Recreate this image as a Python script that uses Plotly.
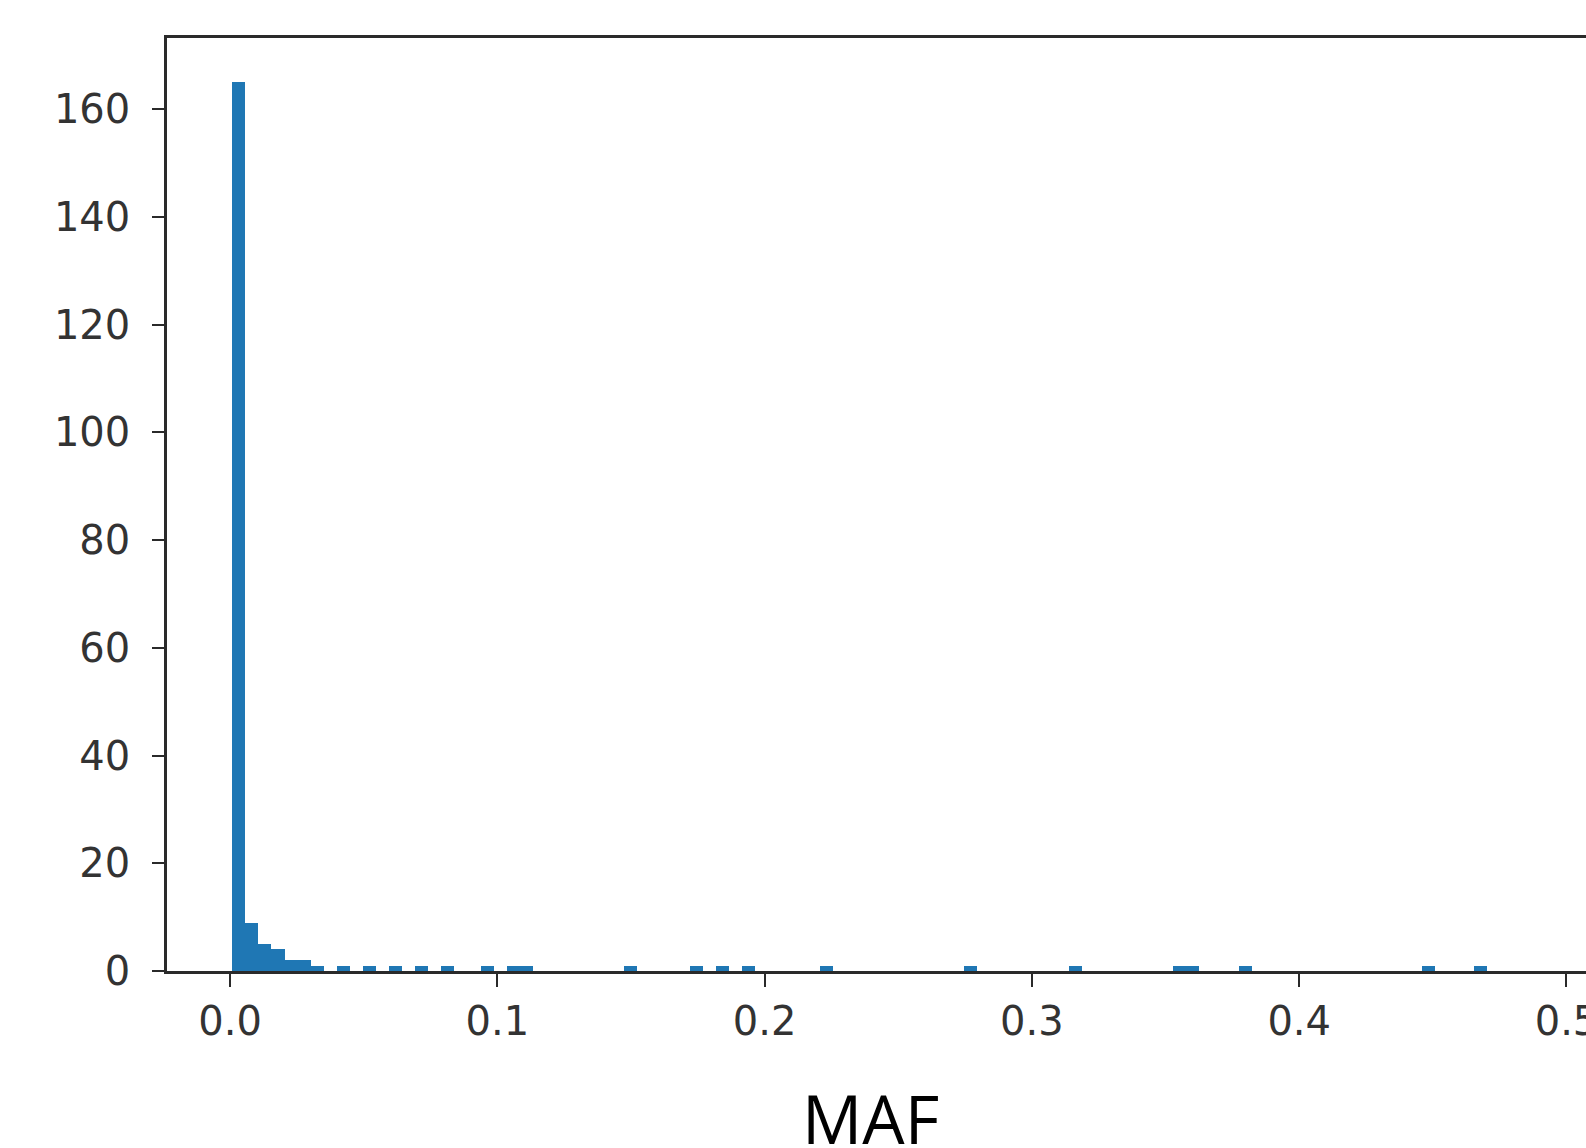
import plotly.graph_objects as go

# Histogram of MAF values: 100 bins of equal width
bin_start = 0.0008
bin_width = 0.00489
counts = [165, 9, 5, 4, 2, 2, 1, 0, 1, 0,
          1, 0, 1, 0, 1, 0, 1, 0, 0, 1,
          0, 1, 1, 0, 0, 0, 0, 0, 0, 0,
          1, 0, 0, 0, 0, 1, 0, 1, 0, 1,
          0, 0, 0, 0, 0, 1, 0, 0, 0, 0,
          0, 0, 0, 0, 0, 0, 1, 0, 0, 0,
          0, 0, 0, 0, 1, 0, 0, 0, 0, 0,
          0, 0, 1, 1, 0, 0, 0, 1, 0, 0,
          0, 0, 0, 0, 0, 0, 0, 0, 0, 0,
          0, 1, 0, 0, 0, 1, 0, 0, 0, 0]
x_ticks = [0.0, 0.1, 0.2, 0.3, 0.4, 0.5]
x_tick_labels = ["0.0", "0.1", "0.2", "0.3", "0.4", "0.5"]
y_ticks = [0, 20, 40, 60, 80, 100, 120, 140, 160]
x_title = "MAF"

centers = [bin_start + (i + 0.5) * bin_width for i in range(len(counts))]

fig = go.Figure()
fig.add_trace(go.Bar(
    x=centers, y=counts, width=[bin_width] * len(counts),
    marker=dict(color="#1f77b4", line=dict(width=0)),
    showlegend=False,
))

axis_font = dict(family="DejaVu Sans", size=40, color="#333333")
fig.update_layout(
    width=1586, height=1148,
    margin=dict(l=167, r=0, t=38, b=177, autoexpand=False),
    plot_bgcolor="white", paper_bgcolor="white",
    bargap=0,
    xaxis=dict(
        range=[-0.0236, 0.5073],
        tickvals=x_ticks, ticktext=x_tick_labels,
        showline=True, linecolor="#2a2a2a", linewidth=2.5, mirror=True,
        ticks="outside", ticklen=13, tickwidth=2, tickcolor="#2a2a2a",
        showgrid=False, zeroline=False,
        tickfont=axis_font, ticklabelstandoff=0,
        ticklabeloverflow="allow", automargin=False,
    ),
    yaxis=dict(
        range=[0, 173.25],
        tickvals=y_ticks,
        showline=True, linecolor="#2a2a2a", linewidth=2.5, mirror=False,
        ticks="outside", ticklen=12, tickwidth=2, tickcolor="#2a2a2a",
        showgrid=False, zeroline=False,
        tickfont=axis_font, ticklabelstandoff=14, automargin=False,
    ),
    annotations=[dict(
        text=x_title, xref="paper", yref="paper",
        x=0.496, y=-0.158, xanchor="center", yanchor="middle",
        showarrow=False,
        font=dict(family="Open Sans", size=67, color="black"),
    )],
)

fig.write_html("out.html")
